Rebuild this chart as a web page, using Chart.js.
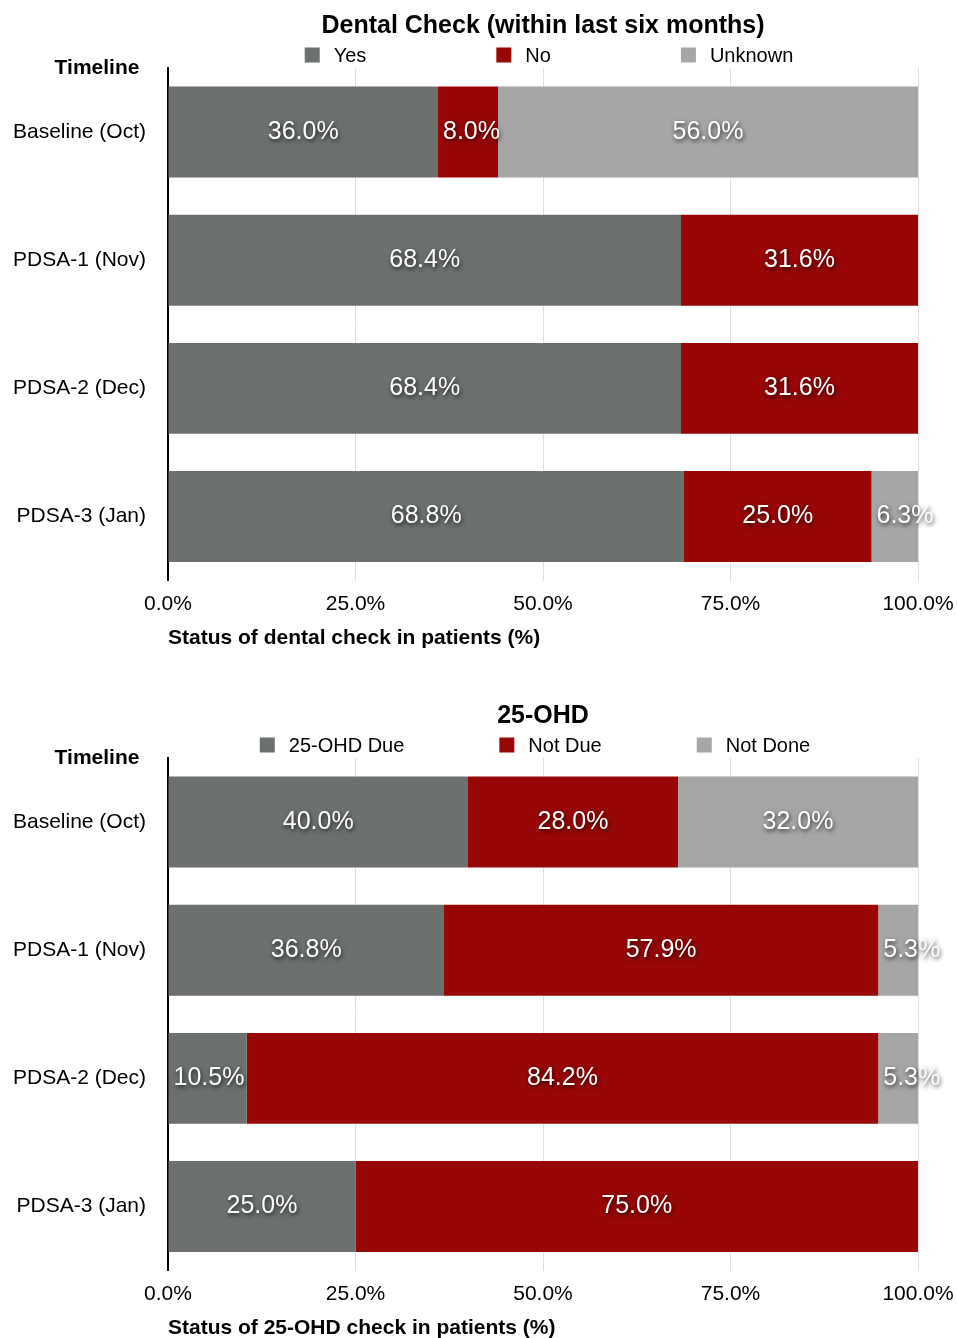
<!DOCTYPE html>
<html>
<head>
<meta charset="utf-8">
<title>Dental Check and 25-OHD</title>
<script src="https://cdn.jsdelivr.net/npm/chart.js@4/dist/chart.umd.min.js"></script>
<style>
    body { margin: 0; width: 957px; height: 1338px; overflow: hidden; background: #fff; }
    .box { position: absolute; left: 0; width: 957px; height: 690px; }
</style>
</head>
<body>
<div class="box" style="top:0"><canvas id="dentalChart" width="957" height="690"></canvas></div>
<div class="box" style="top:690px"><canvas id="ohdChart" width="957" height="690"></canvas></div>
<script>
// categories (same for both charts)
const timeline = ['Baseline (Oct)', 'PDSA-1 (Nov)', 'PDSA-2 (Dec)', 'PDSA-3 (Jan)'];
const xTicks = [0, 25, 50, 75, 100];

// Dental check
const dentalLabels = ['Yes', 'No', 'Unknown'];
const dentalYes = [36.0, 68.4, 68.4, 68.8];
const dentalNo = [8.0, 31.6, 31.6, 25.0];
const dentalUnknown = [56.0, 0, 0, 6.3];

// 25-OHD
const ohdLabels = ['25-OHD Due', 'Not Due', 'Not Done'];
const ohdDue = [40.0, 36.8, 10.5, 25.0];
const ohdNotDue = [28.0, 57.9, 84.2, 75.0];
const ohdNotDone = [32.0, 5.3, 5.3, 0];

const colors = ['#6c716e', '#980606', '#a6a6a6'];
const FONT = '"Liberation Sans", Arial, Helvetica, sans-serif';

// white value labels with a dark shadow, centred in each segment
const barLabels = {
    id: 'barLabels',
    afterDatasetsDraw(chart) {
        const ctx = chart.ctx;
        ctx.save();
        ctx.font = '25px ' + FONT;
        ctx.textBaseline = 'middle';
        ctx.fillStyle = '#fff';
        ctx.shadowColor = 'rgba(0,0,0,0.75)';
        ctx.shadowBlur = 4;
        ctx.shadowOffsetX = 1;
        ctx.shadowOffsetY = 2;
        chart.data.datasets.forEach((ds, di) => {
            chart.getDatasetMeta(di).data.forEach((bar, i) => {
                const v = ds.data[i];
                if (!v) return;
                const txt = v.toFixed(1) + '%';
                const left = Math.min(bar.base, bar.x);
                const w = Math.abs(bar.x - bar.base);
                const tw = ctx.measureText(txt).width;
                if (tw + 8 > w) {
                    ctx.textAlign = 'left';
                    ctx.fillText(txt, left + 5, bar.y);
                } else {
                    ctx.textAlign = 'center';
                    ctx.fillText(txt, left + w / 2, bar.y);
                }
            });
        });
        ctx.restore();
    }
};

// legend row under the title + "Timeline" heading above the category axis
const extras = {
    id: 'extras',
    afterDraw(chart, args, opts) {
        const ctx = chart.ctx;
        const area = chart.chartArea;
        ctx.save();
        ctx.fillStyle = '#000';
        ctx.font = 'bold 21px ' + FONT;
        ctx.textAlign = 'center';
        ctx.textBaseline = 'middle';
        ctx.fillText('Timeline', 97, area.top);

        ctx.font = '20px ' + FONT;
        ctx.textAlign = 'left';
        const box = 15, gap = 14;
        const items = chart.data.datasets.map(ds => ({
            text: ds.label, color: ds.backgroundColor,
            w: box + gap + ctx.measureText(ds.label).width
        }));
        const total = items.reduce((s, it) => s + it.w, 0) + opts.spacing * (items.length - 1);
        let x = (area.left + area.right) / 2 - total / 2 + opts.shift;
        const y = area.top - 13;
        items.forEach(it => {
            ctx.fillStyle = it.color;
            ctx.fillRect(x, y - box / 2, box, box);
            ctx.fillStyle = '#000';
            ctx.fillText(it.text, x + box + gap, y + 1);
            x += it.w + opts.spacing;
        });
        ctx.restore();
    }
};

function makeChart(id, title, axisTitle, names, series, spacing, shift) {
    const ctx = document.getElementById(id).getContext('2d');
    return new Chart(ctx, {
        type: 'bar',
        data: {
            labels: timeline,
            datasets: series.map((d, i) => ({
                label: names[i],
                data: d,
                backgroundColor: colors[i],
                borderWidth: 0,
                barPercentage: 0.71,
                categoryPercentage: 1
            }))
        },
        options: {
            indexAxis: 'y',
            responsive: false,
            animation: false,
            layout: { padding: { left: 0, right: 39, top: 0, bottom: 0 } },
            scales: {
                x: {
                    stacked: true,
                    min: 0,
                    max: 100,
                    afterBuildTicks: scale => { scale.ticks = xTicks.map(v => ({ value: v })); },
                    afterFit: scale => { scale.paddingLeft = 0; scale.paddingRight = 0; },
                    ticks: {
                        callback: v => v.toFixed(1) + '%',
                        color: '#000',
                        font: { family: FONT, size: 21 },
                        padding: 11,
                        maxRotation: 0
                    },
                    grid: { color: '#dedede', lineWidth: 1, drawTicks: false },
                    border: { display: false },
                    title: {
                        display: true,
                        text: axisTitle,
                        align: 'start',
                        color: '#000',
                        font: { family: FONT, size: 21, weight: 'bold' },
                        padding: { top: -2, bottom: 39 }
                    }
                },
                y: {
                    stacked: true,
                    afterFit: scale => { scale.width = 168; },
                    ticks: {
                        color: '#000',
                        font: { family: FONT, size: 21 },
                        padding: 22
                    },
                    grid: { display: false, drawTicks: false },
                    border: { display: true, color: '#000', width: 2 }
                }
            },
            plugins: {
                legend: { display: false },
                tooltip: { enabled: false },
                title: {
                    display: true,
                    text: title,
                    fullSize: false,
                    color: '#000',
                    font: { family: FONT, size: 25, weight: 'bold' },
                    padding: { top: 11, bottom: 27 }
                },
                extras: { spacing: spacing, shift: shift }
            }
        },
        plugins: [barLabels, extras]
    });
}

window.onload = function() {
    makeChart('dentalChart', 'Dental Check (within last six months)',
        'Status of dental check in patients (%)', dentalLabels,
        [dentalYes, dentalNo, dentalUnknown], 130, 6);
    makeChart('ohdChart', '25-OHD',
        'Status of 25-OHD check in patients (%)', ohdLabels,
        [ohdDue, ohdNotDue, ohdNotDone], 95, -8);
};
</script>
</body>
</html>
